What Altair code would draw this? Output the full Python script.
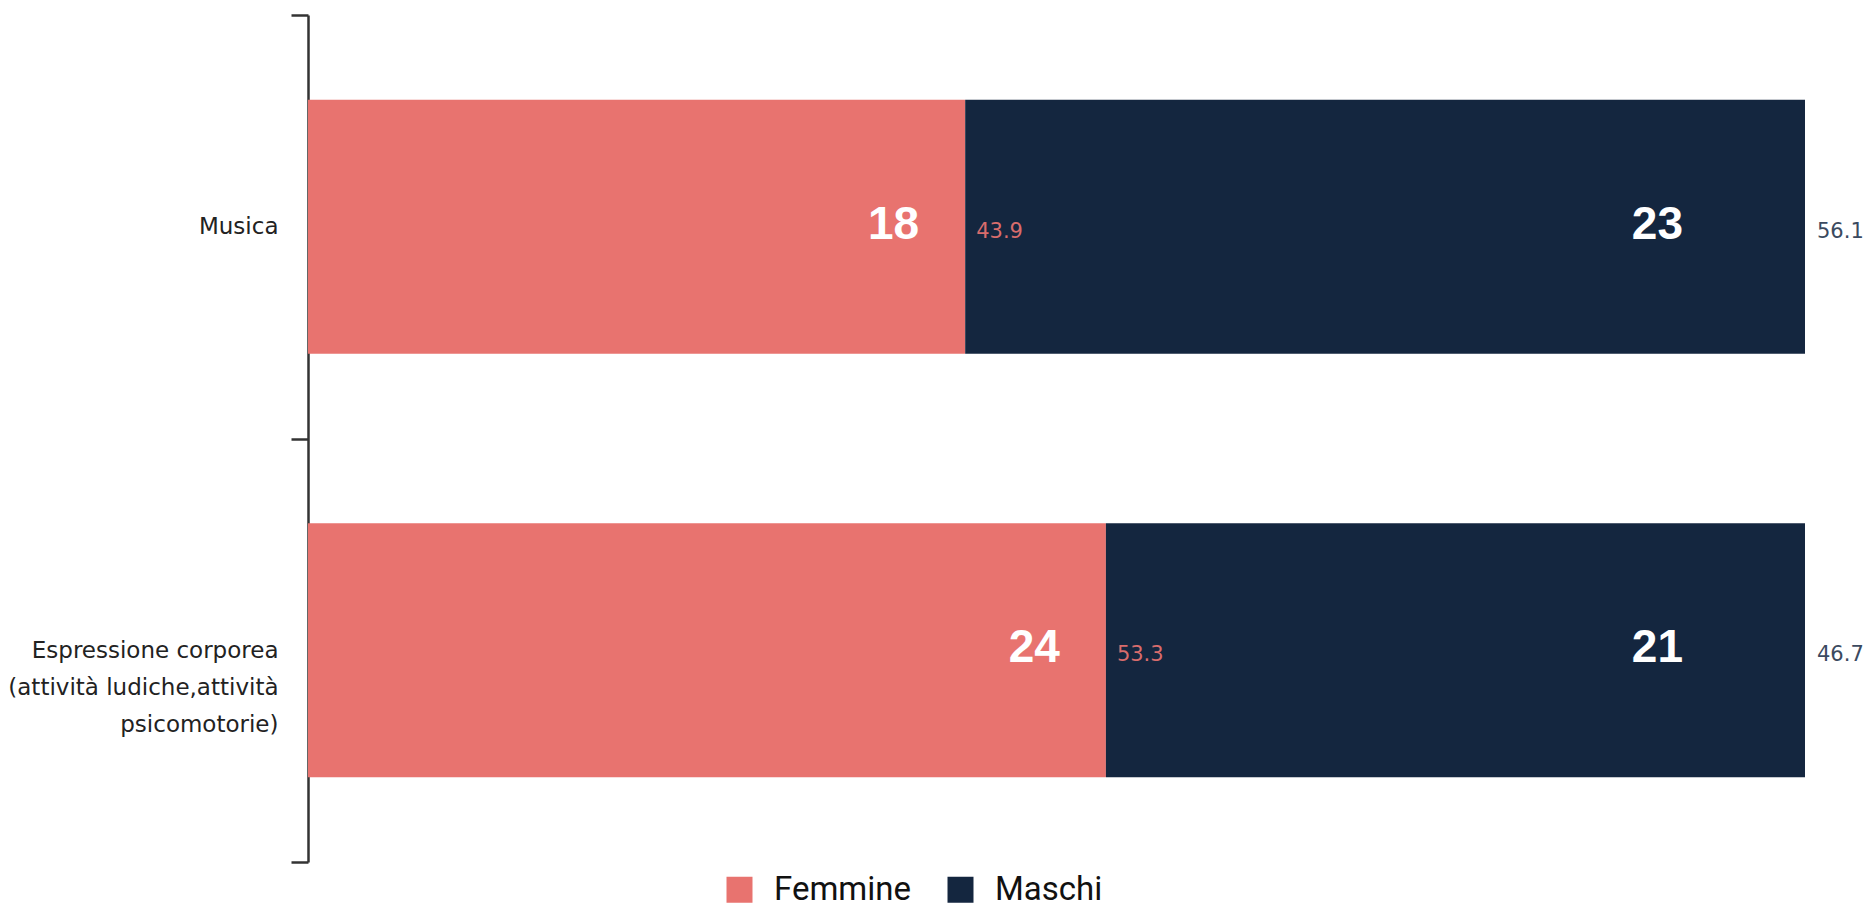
import altair as alt
import pandas as pd

categories = ["Musica", "Espressione corporea|(attività ludiche,attività|psicomotorie)"]
genders = ["Femmine", "Maschi"]
femmine_counts = [18, 24]
maschi_counts = [23, 21]
femmine_pct = [43.9, 53.3]
maschi_pct = [56.1, 46.7]
colors = ["#E8736F", "#14263F"]
pct_colors = ["#D86C6C", "#3B4A60"]

rows = []
for i, c in enumerate(categories):
    rows.append({"cat": c, "gender": "Femmine", "count": femmine_counts[i], "pct": femmine_pct[i],
                 "start": 0.0, "end": femmine_pct[i], "ord": 0})
    rows.append({"cat": c, "gender": "Maschi", "count": maschi_counts[i], "pct": maschi_pct[i],
                 "start": femmine_pct[i], "end": femmine_pct[i] + maschi_pct[i], "ord": 1})
df = pd.DataFrame(rows)

xs = alt.Scale(domain=[0, 100], nice=False, zero=True)
ys = alt.Scale(domain=categories, paddingInner=0, paddingOuter=0)

base = alt.Chart(df)

bars = base.mark_bar(size=254).encode(
    y=alt.Y("cat:N", scale=ys, sort=categories, title=None,
            axis=alt.Axis(labelExpr="split(datum.label, '|')", labelFont="DejaVu Sans",
                          labelFontSize=23, labelColor="#222222", labelLimit=400,
                          labelLineHeight=37, labelPadding=13, tickSize=17, tickWidth=2.5,
                          tickColor="#333333", domainColor="#333333", domainWidth=2.5,
                          tickBand="extent", grid=False, labelAlign="right", labelBaseline="middle")),
    x=alt.X("start:Q", scale=xs, axis=None),
    x2="end:Q",
    color=alt.Color("gender:N", scale=alt.Scale(domain=genders, range=colors),
                    legend=alt.Legend(title=None, orient="none", direction="horizontal",
                                      legendX=415, legendY=858, symbolType="square",
                                      symbolSize=676, symbolStrokeWidth=0, labelFont="Roboto",
                                      labelFontSize=33, labelColor="#111111", labelOffset=18,
                                      columnPadding=32, padding=0)),
    order=alt.Order("ord:Q"),
)

def count_layer(g, dx):
    return base.transform_filter(alt.datum.gender == g).mark_text(
        align="right", baseline="middle", dx=dx, dy=-2, font="Liberation Sans",
        fontWeight="bold", fontSize=46, color="white"
    ).encode(
        y=alt.Y("cat:N", scale=ys, sort=categories),
        x=alt.X("end:Q", scale=xs),
        text="count:Q",
    )

def pct_layer(g, dx, col):
    return base.transform_filter(alt.datum.gender == g).mark_text(
        align="left", baseline="middle", dx=dx, dy=5, font="DejaVu Sans",
        fontSize=21, color=col
    ).encode(
        y=alt.Y("cat:N", scale=ys, sort=categories),
        x=alt.X("end:Q", scale=xs),
        text=alt.Text("pct:Q", format=".1f"),
    )

chart = alt.layer(
    bars,
    count_layer("Femmine", -46),
    count_layer("Maschi", -122),
    pct_layer("Femmine", 11, pct_colors[0]),
    pct_layer("Maschi", 12, pct_colors[1]),
).properties(
    width=1497, height=847,
    autosize=alt.AutoSizeParams(type="none"),
    padding={"left": 300, "top": 7, "right": 59, "bottom": 49},
    background="white",
).configure_view(stroke=None, strokeWidth=0)

chart.save("out.html", embed_options={"renderer": "svg", "actions": False})
